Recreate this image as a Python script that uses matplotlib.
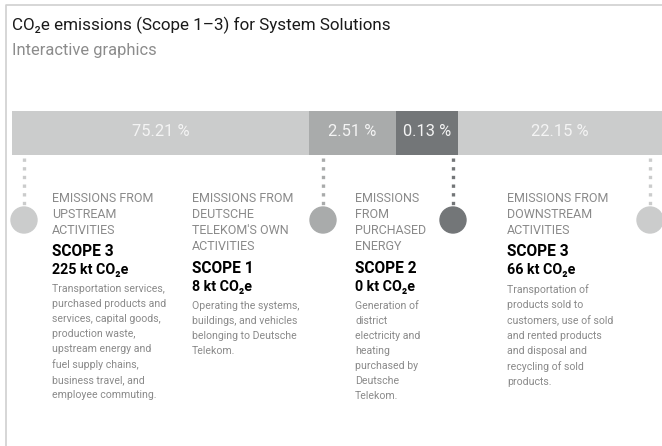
import matplotlib
matplotlib.use('Agg')
import matplotlib.pyplot as plt
from matplotlib.patches import Circle

# data
shares = [75.21, 2.51, 0.13, 22.15]
scopes = ['SCOPE 3', 'SCOPE 1', 'SCOPE 2', 'SCOPE 3']
kt_co2e = [225, 8, 0, 66]
headings = ['EMISSIONS FROM\nUPSTREAM\nACTIVITIES',
            "EMISSIONS FROM\nDEUTSCHE\nTELEKOM'S OWN\nACTIVITIES",
            'EMISSIONS\nFROM\nPURCHASED\nENERGY',
            'EMISSIONS FROM\nDOWNSTREAM\nACTIVITIES']
descriptions = ['Transportation services,\npurchased products and\nservices, capital goods,\nproduction waste,\n'
                'upstream energy and\nfuel supply chains,\nbusiness travel, and\nemployee commuting.',
                'Operating the systems,\nbuildings, and vehicles\nbelonging to Deutsche\nTelekom.',
                'Generation of\ndistrict\nelectricity and\nheating\npurchased by\nDeutsche\nTelekom.',
                'Transportation of\nproducts sold to\ncustomers, use of sold\nand rented products\n'
                'and disposal and\nrecycling of sold\nproducts.']

# layout (pixels) - the web graphic uses display widths, not proportional ones
seg_px = [297, 87, 62, 230]
colors = ['#cbcccc', '#a9abab', '#737678', '#cbcccc']
marker_x = [24, 323, 453, 650]
text_x = [52, 192, 355, 507]

plt.rcParams['font.family'] = ['Roboto', 'DejaVu Sans']
pt = 0.72  # px -> pt at 100 dpi

fig = plt.figure(figsize=(6.62, 4.46), dpi=100)
ax = fig.add_axes([0, 0, 1, 1])
ax.set_xlim(0, 662)
ax.set_ylim(446, 0)
ax.axis('off')

# frame
ax.plot([6, 6, 662], [446, 5, 5], color='#d0d0d0', lw=1.2)

ax.text(12, 25, 'CO\u2082e emissions (Scope 1\u20133) for System Solutions',
        fontsize=17 * pt, color='#1a1a1a', va='center')
ax.text(12, 50, 'Interactive graphics', fontsize=16.5 * pt, color='#8c8c8c', va='center')

left = 12
for i, w in enumerate(seg_px):
    ax.barh(133, w, left=left, height=44, color=colors[i])
    ax.text(left + min(w, 662 - left) / 2, 131, f'{shares[i]:.2f} %', color='#f4f4f4',
            fontsize=16.5 * pt, ha='center', va='center')
    left += w

for i, x in enumerate(marker_x):
    c = colors[i]
    ax.plot([x, x], [158, 207], color=c, lw=2.4, ls=(0, (1, 1.6)))
    ax.add_patch(Circle((x, 220), 13, color=c))

    tx = text_x[i]
    nh = headings[i].count('\n') + 1
    ax.text(tx, 192, headings[i], fontsize=12.5 * pt, color='#8a8a8a', va='top', linespacing=1.31)
    y = 190 + nh * 17 + 3
    ax.text(tx, y, scopes[i], fontsize=15.5 * pt, color='black', fontweight='bold', va='top')
    ax.text(tx, y + 19, f'{kt_co2e[i]} kt CO\u2082e', fontsize=14.2 * pt, color='black',
            fontweight='bold', va='top')
    ax.text(tx, y + 40, descriptions[i], fontsize=10.5 * pt, color='#8a8a8a', va='top',
            linespacing=1.62)

fig.savefig('out.png', dpi=100)
